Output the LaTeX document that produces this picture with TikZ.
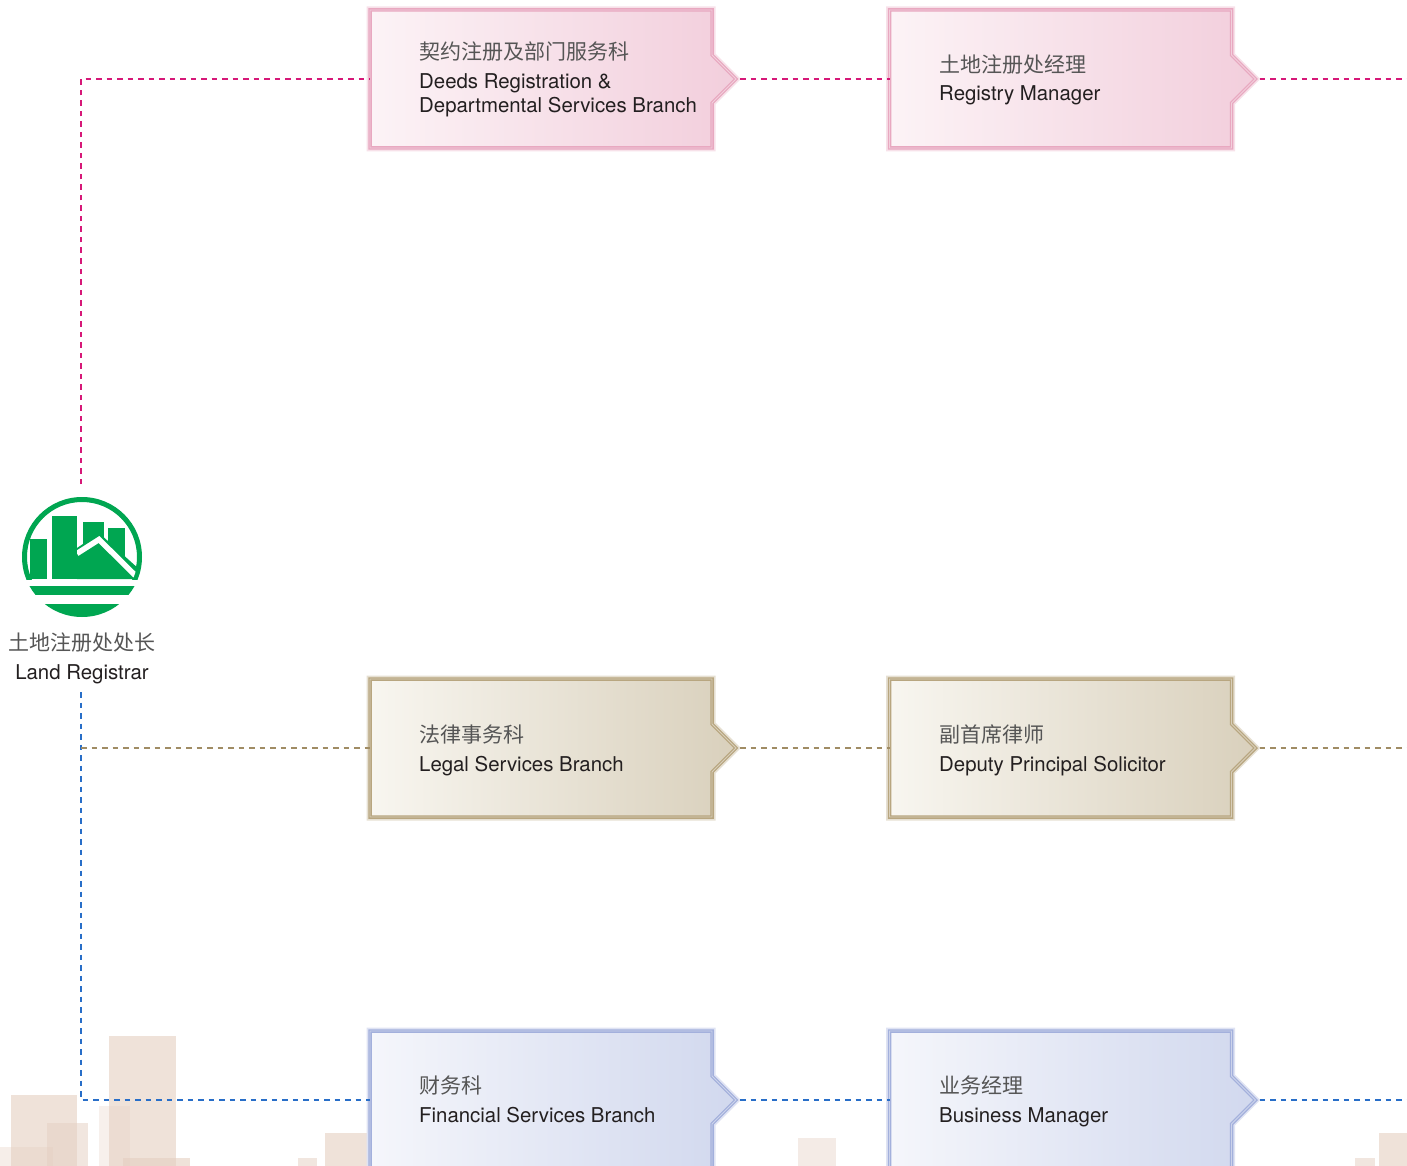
\documentclass[tikz,border=0pt]{standalone}
\usepackage{fontspec}
\setmainfont{TeX Gyre Heros}
\newfontfamily\cjk{Noto Sans CJK SC}
\usetikzlibrary{calc}

\definecolor{logogreen}{RGB}{0,166,81}
\definecolor{zhgray}{RGB}{85,85,85}
\definecolor{entext}{RGB}{35,31,32}
% connector colours
\definecolor{pinkline}{RGB}{214,24,120}
\definecolor{tanline}{RGB}{160,140,100}
\definecolor{blueline}{RGB}{40,110,200}
% box fills and borders
\definecolor{pinkL}{RGB}{252,243,246}
\definecolor{pinkR}{RGB}{242,206,220}
\definecolor{pinkB}{RGB}{232,168,192}
\definecolor{tanL}{RGB}{248,246,240}
\definecolor{tanR}{RGB}{217,208,188}
\definecolor{tanB}{RGB}{184,166,128}
\definecolor{blueL}{RGB}{245,246,251}
\definecolor{blueR}{RGB}{209,216,238}
\definecolor{blueB}{RGB}{163,176,220}
\definecolor{city}{RGB}{228,206,192}

% outline of a branch box: rectangle with a small pointer on its right side
\newcommand\tagpath[1]{(#1.north west) -- (#1.north east) -- ($(#1.east)+(0,-24)$) -- ($(#1.east)+(24,0)$) -- ($(#1.east)+(0,24)$) -- (#1.south east) -- (#1.south west) -- cycle}
\newcommand\tagbox[4]{%
  \draw[#4!35, line width=7pt, line join=miter] \tagpath{#1};
  \fill[left color=#2, right color=#3] \tagpath{#1};
  \draw[#4, line width=3.5pt, line join=miter] \tagpath{#1};
  \draw[white, opacity=0.45, line width=0.8pt, line join=miter] \tagpath{#1};
}

\begin{document}
\begin{tikzpicture}[x=1pt, y=-1pt,
  boxbody/.style={minimum width=342pt, minimum height=138pt, inner sep=0pt, outer sep=0pt},
  zh/.style={font=\cjk\fontsize{21}{24}\selectfont, text=zhgray, inner sep=0pt, anchor=base west},
  en/.style={font=\fontsize{20.4}{24}\selectfont, text=entext, inner sep=0pt, anchor=base west},
  link/.style={line width=1.6pt, dash pattern=on 5.5pt off 5pt},
  building/.style={fill=city, fill opacity=#1},
  building/.default=0.6]
\useasboundingbox (0,0) rectangle (1407,1166);

% skyline in the background
\fill[building=0.6]  (109,1036) rectangle (176,1166);
\fill[building=0.6]  (11,1095) rectangle (77,1166);
\fill[building=0.5]  (47,1123) rectangle (88,1166);
\fill[building=0.35] (0,1147) rectangle (53,1166);
\fill[building=0.3]  (99,1106) rectangle (130,1166);
\fill[building=0.6]  (123,1158) rectangle (190,1166);
\fill[building=0.5]  (298,1158) rectangle (317,1166);
\fill[building=0.6]  (325,1133) rectangle (368,1166);
\fill[building=0.4]  (798,1138) rectangle (836,1166);
\fill[building=0.6]  (1379,1133) rectangle (1407,1166);
\fill[building=0.5]  (1355,1158) rectangle (1375,1166);

% logo
\node[circle, minimum size=120pt, inner sep=0pt] (logo) at (82,557) {};
\begin{scope}
  \clip (0,400) rectangle (200,579);
  \fill[logogreen, even odd rule] (82,557) circle (60) (82,557) circle (55);
\end{scope}
\begin{scope}
  \clip (82,557) circle (60);
  \fill[logogreen] (0,586) rectangle (200,595);
  \fill[logogreen] (0,604) rectangle (200,630);
\end{scope}
\begin{scope}
  \clip (82,557) circle (55.5);
  \fill[logogreen] (30,539) rectangle (47,579);
  \fill[logogreen] (52,516) rectangle (77,579);
  \fill[logogreen] (83,522) rectangle (104,579);
  \fill[logogreen] (108,528) rectangle (125,579);
  \fill[logogreen] (77,579) -- (77,548) -- (99,533) -- (150,579) -- cycle;
  \draw[white, line width=5.5pt, line join=miter] (77,553.5) -- (99,539.5) -- (145,585);
  \fill[white] (52,553) rectangle (77,560);
  \fill[logogreen] (52,550) rectangle (77,579);
\end{scope}
\node[zh, anchor=base] (lrzh) at (82,650) {土地注册处处长};
\node[en, anchor=base] (lren) at (82,679) {Land Registrar};

% branch boxes
\node[boxbody] (deeds) at (541,79) {};
\node[boxbody] (regmgr) at (1060.5,79) {};
\node[boxbody] (legal) at (541,748) {};
\node[boxbody] (dps) at (1060.5,748) {};
\node[boxbody] (fin) at (541,1100) {};
\node[boxbody] (busmgr) at (1060.5,1100) {};

\tagbox{deeds}{pinkL}{pinkR}{pinkB}
\tagbox{regmgr}{pinkL}{pinkR}{pinkB}
\tagbox{legal}{tanL}{tanR}{tanB}
\tagbox{dps}{tanL}{tanR}{tanB}
\tagbox{fin}{blueL}{blueR}{blueB}
\tagbox{busmgr}{blueL}{blueR}{blueB}

% labels
\node[zh] (deedszh) at (419,60) {契约注册及部门服务科};
\node[en] (deedsen1) at (419,89) {Deeds Registration \&};
\node[en] (deedsen2) at (419,113) {Departmental Services Branch};
\node[zh] (regmgrzh) at (939,73) {土地注册处经理};
\node[en] (regmgren) at (939,101) {Registry Manager};
\node[zh] (legalzh) at (419,742) {法律事务科};
\node[en] (legalen) at (419,771) {Legal Services Branch};
\node[zh] (dpszh) at (939,742) {副首席律师};
\node[en] (dpsen) at (939,771) {Deputy Principal Solicitor};
\node[zh] (finzh) at (419,1093) {财务科};
\node[en] (finen) at (419,1122) {Financial Services Branch};
\node[zh] (busmgrzh) at (939,1093) {业务经理};
\node[en] (busmgren) at (939,1122) {Business Manager};

% connector end points
\coordinate (pinkfoot) at (81,484);
\coordinate (bluehead) at (81,692);
\coordinate (tanstart) at (81,748);
\coordinate (deedstip) at ($(deeds.east)+(28,0)$);
\coordinate (regmgrtip) at ($(regmgr.east)+(28,0)$);
\coordinate (legaltip) at ($(legal.east)+(28,0)$);
\coordinate (dpstip) at ($(dps.east)+(28,0)$);
\coordinate (fintip) at ($(fin.east)+(28,0)$);
\coordinate (busmgrtip) at ($(busmgr.east)+(28,0)$);
\coordinate (pinkend) at (1407,79);
\coordinate (tanend) at (1407,748);
\coordinate (blueend) at (1407,1100);

% connectors
\draw[link, pinkline] (pinkfoot) |- (deeds.west);
\draw[link, pinkline] (deedstip) -- (regmgr.west);
\draw[link, pinkline] (regmgrtip) -- (pinkend);
\draw[link, blueline] (bluehead) |- (fin.west);
\draw[link, blueline] (fintip) -- (busmgr.west);
\draw[link, blueline] (busmgrtip) -- (blueend);
\draw[link, tanline] (tanstart) -- (legal.west);
\draw[link, tanline] (legaltip) -- (dps.west);
\draw[link, tanline] (dpstip) -- (tanend);
\end{tikzpicture}
\end{document}
